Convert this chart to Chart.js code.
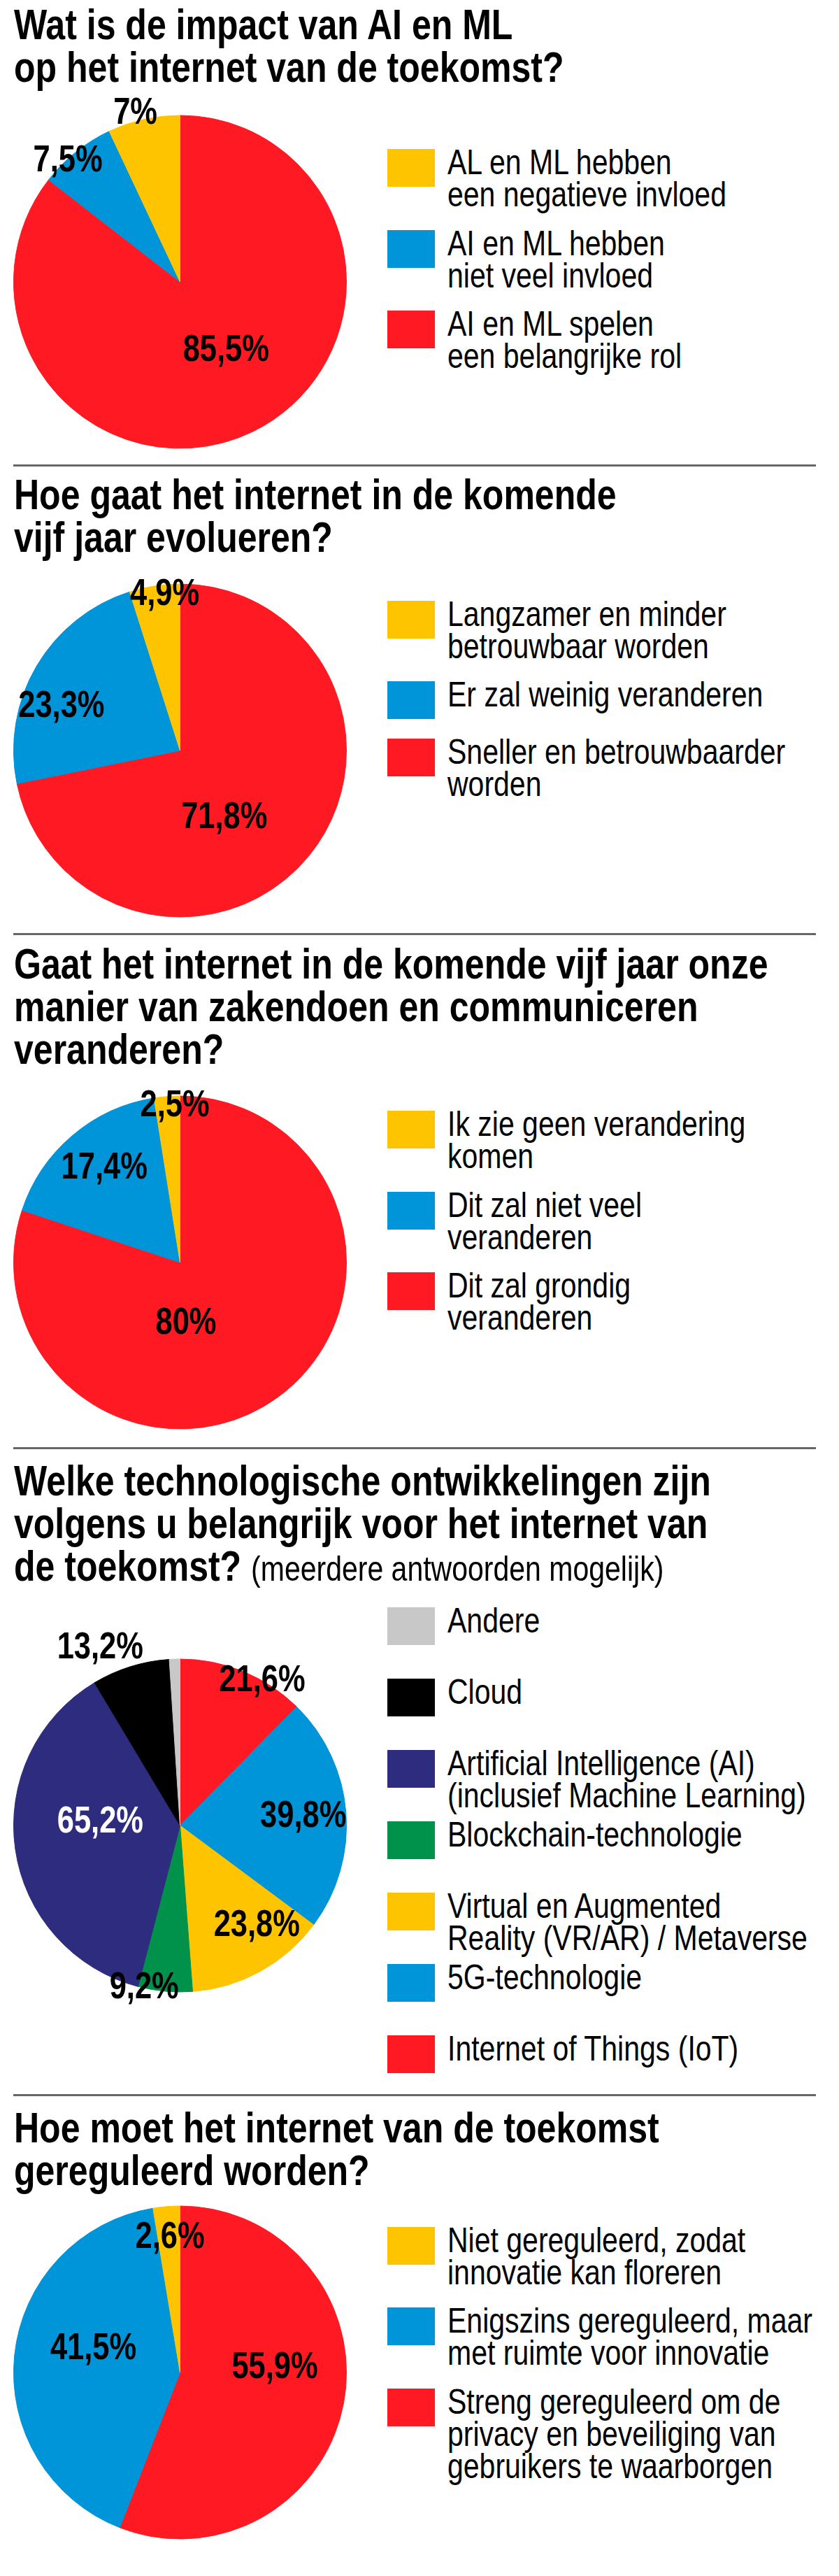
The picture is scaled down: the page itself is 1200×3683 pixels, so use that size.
<!DOCTYPE html>
<html>
<head>
<meta charset="utf-8">
<script src="https://cdn.jsdelivr.net/npm/chart.js@4.4.0/dist/chart.umd.min.js"></script>
<style>
  body { margin: 0; background: #fff; width: 1200px; height: 3683px; position: relative; overflow: hidden;
         font-family: "Liberation Sans", Arial, sans-serif; color: #000; }
  /* smalle letter: gewone letter horizontaal samengedrukt */
  .title { position: absolute; left: 20px; margin: 0; font-weight: bold; font-size: 61px; line-height: 61px;
           white-space: nowrap; transform: scaleX(0.82); transform-origin: 0 0; }
  .title span { font-weight: normal; font-size: 50px; }
  .sep { position: absolute; left: 19px; width: 1148px; height: 3px; background: #666; }
  .pie { position: absolute; left: 0; }
  .lg-box { position: absolute; left: 554px; width: 68px; height: 54px; }
  .lg-text { position: absolute; left: 640px; font-size: 50px; line-height: 46px; white-space: pre;
             transform: scaleX(0.82); transform-origin: 0 0; }
</style>
</head>
<body>
<script>
// kleuren
const YELLOW = '#FEC400', BLUE = '#0094D8', RED = '#FF1922', NAVY = '#2E2C7E',
      GREEN = '#00924B', GREY = '#C8C8C8', BLACK = '#000000';

// vraag 1
const q1Title = ['Wat is de impact van AI en ML', 'op het internet van de toekomst?'];
const q1Labels = ['AL en ML hebben\neen negatieve invloed', 'AI en ML hebben\nniet veel invloed', 'AI en ML spelen\neen belangrijke rol'];
const q1Values = [7, 7.5, 85.5];

// vraag 2
const q2Title = ['Hoe gaat het internet in de komende', 'vijf jaar evolueren?'];
const q2Labels = ['Langzamer en minder\nbetrouwbaar worden', 'Er zal weinig veranderen', 'Sneller en betrouwbaarder\nworden'];
const q2Values = [4.9, 23.3, 71.8];

// vraag 3
const q3Title = ['Gaat het internet in de komende vijf jaar onze', 'manier van zakendoen en communiceren', 'veranderen?'];
const q3Labels = ['Ik zie geen verandering\nkomen', 'Dit zal niet veel\nveranderen', 'Dit zal grondig\nveranderen'];
const q3Values = [2.5, 17.4, 80];

// vraag 4 (meerdere antwoorden mogelijk)
const q4Title = ['Welke technologische ontwikkelingen zijn', 'volgens u belangrijk voor het internet van', 'de toekomst?'];
const q4Subtitle = '(meerdere antwoorden mogelijk)';
const q4Labels = ['Andere', 'Cloud', 'Artificial Intelligence (AI)\n(inclusief Machine Learning)', 'Blockchain-technologie',
                  'Virtual en Augmented\nReality (VR/AR) / Metaverse', '5G-technologie', 'Internet of Things (IoT)'];
const q4Values = [1.8, 13.2, 65.2, 9.2, 23.8, 39.8, 21.6];
const q4Shown = [false, true, true, true, true, true, true];

// vraag 5
const q5Title = ['Hoe moet het internet van de toekomst', 'gereguleerd worden?'];
const q5Labels = ['Niet gereguleerd, zodat\ninnovatie kan floreren', 'Enigszins gereguleerd, maar\nmet ruimte voor innovatie',
                  'Streng gereguleerd om de\nprivacy en beveiliging van\ngebruikers te waarborgen'];
const q5Values = [2.6, 41.5, 55.9];

// opmaak per grafiek (posities, kleuren, plaats van de percentages)
const sections = [
  { title: q1Title, labels: q1Labels, values: q1Values, colors: [YELLOW, BLUE, RED],
    titleTop: 5, cy: 402.5, legendTop: 213,
    place: [[1.044, -2.3], [0.99, -4.2], [0.497, -7.7]] },
  { title: q2Title, labels: q2Labels, values: q2Values, colors: [YELLOW, BLUE, RED],
    titleTop: 677, cy: 1073, legendTop: 858.6, sepTop: 664,
    place: [[0.94, 3.2], [0.76, -10.1], [0.485, 17.5]] },
  { title: q3Title, labels: q3Labels, values: q3Values, colors: [YELLOW, BLUE, RED],
    titleTop: 1348, cy: 1805, legendTop: 1588, sepTop: 1334,
    place: [[0.94, 2.6], [0.727, 1.6], [0.367, 30.3]] },
  { title: q4Title, subtitle: q4Subtitle, labels: q4Labels, values: q4Values, shown: q4Shown,
    colors: [GREY, BLACK, NAVY, GREEN, YELLOW, BLUE, RED],
    textColors: ['#000', '#000', '#fff', '#000', '#000', '#000', '#000'],
    titleTop: 2087, cy: 2610, legendTop: 2297.6, legendPitch: 102, sepTop: 2069,
    place: [null, [1.17, -6.9], [0.48, 10.6], [1.0, 7.3], [0.76, -8.5], [0.742, 0.5], [1.0, 7.3]] },
  { title: q5Title, labels: q5Labels, values: q5Values, colors: [YELLOW, BLUE, RED],
    titleTop: 3012, cy: 3391.6, legendTop: 3183.6, sepTop: 2994,
    place: [[0.81, 0.4], [0.54, 9.3], [0.57, -13.4]] }
];

const fmt = v => String(v).replace('.', ',') + '%';

// percentages bij de taartpunten
const pctLabels = {
  id: 'pctLabels',
  afterDatasetsDraw(chart, args, opts) {
    const ctx = chart.ctx;
    const ds = chart.data.datasets[0];
    chart.getDatasetMeta(0).data.forEach((arc, i) => {
      const p = opts.place[i];
      if (!p) return;
      const a = (arc.startAngle + arc.endAngle) / 2 + p[1] * Math.PI / 180;
      const r = arc.outerRadius * p[0];
      ctx.save();
      ctx.translate(arc.x + Math.cos(a) * r, arc.y + Math.sin(a) * r);
      ctx.scale(0.82, 1);
      ctx.font = 'bold 53px "Liberation Sans", Arial, sans-serif';
      ctx.fillStyle = opts.textColors[i];
      ctx.textAlign = 'center';
      ctx.textBaseline = 'middle';
      ctx.fillText(fmt(ds.data[i]), 0, 0);
      ctx.restore();
    });
  }
};

const CW = 560, CH = 600, D = 477;

sections.forEach(s => {
  if (s.sepTop !== undefined) {
    const sep = document.createElement('div');
    sep.className = 'sep';
    sep.style.top = s.sepTop + 'px';
    document.body.appendChild(sep);
  }

  const h = document.createElement('div');
  h.className = 'title';
  h.style.top = s.titleTop + 'px';
  h.innerHTML = s.title.join('<br>') + (s.subtitle ? ' <span>' + s.subtitle + '</span>' : '');
  document.body.appendChild(h);

  // legenda
  let y = s.legendTop;
  s.labels.forEach((lab, i) => {
    const box = document.createElement('div');
    box.className = 'lg-box';
    box.style.top = y + 'px';
    box.style.background = s.colors[i];
    document.body.appendChild(box);
    const t = document.createElement('div');
    t.className = 'lg-text';
    t.style.top = (y - 4) + 'px';
    t.textContent = lab;
    document.body.appendChild(t);
    const n = lab.split('\n').length;
    y += s.legendPitch || Math.max(82, n * 46 + 23.5);
  });

  // taart: tegen de klok in vanaf 12 uur, dus omgekeerde volgorde
  const cv = document.createElement('canvas');
  cv.className = 'pie';
  cv.width = CW; cv.height = CH;
  cv.style.top = (s.cy - CH / 2) + 'px';
  document.body.appendChild(cv);

  const rev = a => a.slice().reverse();
  const textColors = s.textColors || s.labels.map(() => '#000');
  const place = s.place.map((p, i) => (s.shown && !s.shown[i]) ? null : p);

  new Chart(cv.getContext('2d'), {
    type: 'pie',
    data: {
      labels: rev(s.labels),
      datasets: [{
        data: rev(s.values),
        backgroundColor: rev(s.colors),
        borderColor: rev(s.colors),
        borderWidth: 1,
        hoverOffset: 0
      }]
    },
    options: {
      responsive: false,
      animation: false,
      events: [],
      layout: { padding: { left: 19, right: CW - 19 - D, top: (CH - D) / 2, bottom: (CH - D) / 2 } },
      plugins: {
        legend: { display: false },
        tooltip: { enabled: false },
        pctLabels: { place: rev(place), textColors: rev(textColors) }
      }
    },
    plugins: [pctLabels]
  });
});
</script>
</body>
</html>
